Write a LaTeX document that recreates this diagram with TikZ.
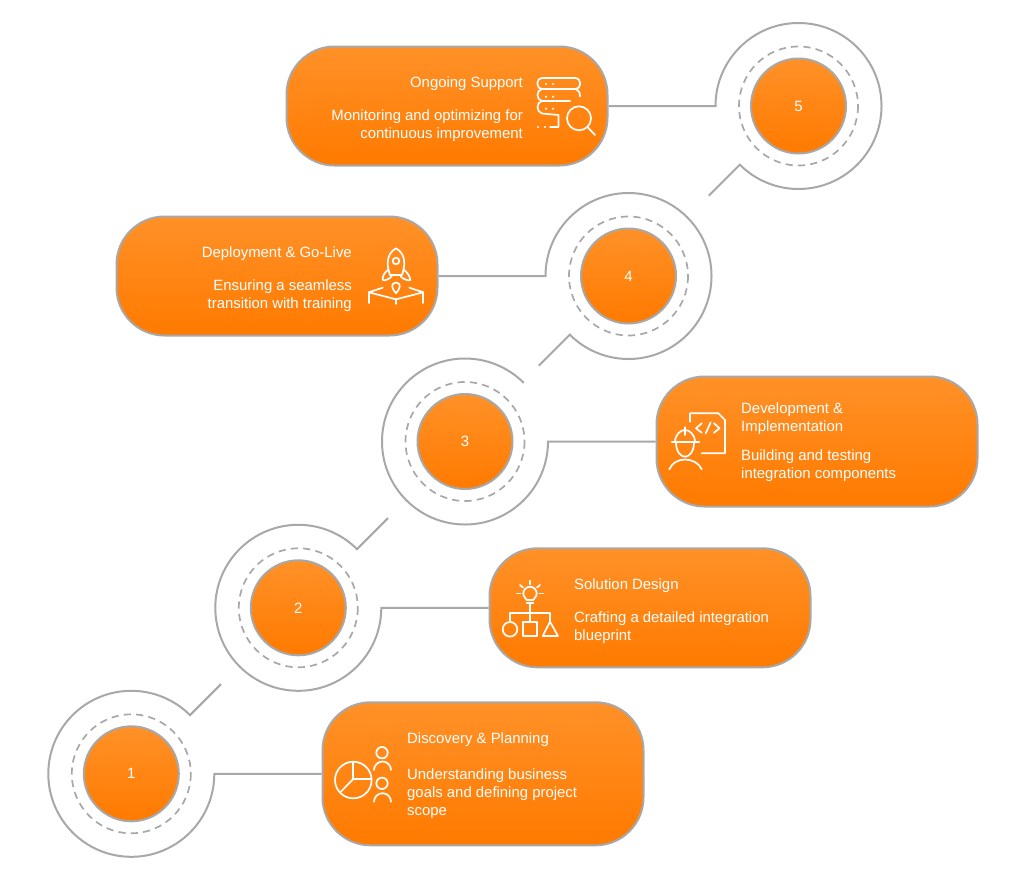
\documentclass[tikz,border=0pt]{standalone}
\usepackage{fontspec}
\setmainfont{Liberation Sans}
\usetikzlibrary{calc}
\definecolor{stepgray}{HTML}{A8A8A8}
\definecolor{steptop}{HTML}{FF9128}
\definecolor{stepbottom}{HTML}{FF7A00}
\tikzset{
  stepbox/.style={draw=stepgray, line width=2pt, rounded corners=48pt, top color=steptop, bottom color=stepbottom, minimum width=321pt, inner sep=0pt},
  numdisc/.style={circle, draw=stepgray, line width=2pt, top color=steptop, bottom color=stepbottom, minimum size=95pt, inner sep=0pt, text=white, font=\fontsize{14.9}{18}\selectfont},
  ringline/.style={draw=stepgray, line width=2pt},
  dashring/.style={draw=stepgray, line width=1.7pt, dash pattern=on 7.2pt off 5.2pt},
  steptext/.style={text=white, inner sep=0pt, font=\fontsize{14.9}{18}\selectfont},
  iconline/.style={draw=white, line width=1.7pt, line cap=round, line join=round}
}
\begin{document}
\begin{tikzpicture}[x=1pt,y=-1pt]
\useasboundingbox (0,0) rectangle (1024,878);
% boxes
\node[stepbox, minimum height=119pt] (box5) at (447,106) {};
\node[stepbox, minimum height=119pt] (box4) at (277,276) {};
\node[stepbox, minimum height=130pt] (box3) at (817,441.5) {};
\node[stepbox, minimum height=119pt] (box2) at (650,607.8) {};
\node[stepbox, minimum height=143pt] (box1) at (483,773.8) {};
% discs
\node[numdisc] (disc5) at (798.5,106) {5};
\node[numdisc] (disc4) at (628.5,276) {4};
\node[numdisc] (disc3) at (465,441.5) {3};
\node[numdisc] (disc2) at (298.3,607.8) {2};
\node[numdisc] (disc1) at (131.3,773.8) {1};
\draw[dashring] (disc5) circle (59.5);
\draw[dashring] (disc4) circle (59.5);
\draw[dashring] (disc3) circle (59.5);
\draw[dashring] (disc2) circle (59.5);
\draw[dashring] (disc1) circle (59.5);
% connectors with the outer rings
\coordinate (ring5) at ($(disc5)+(-83,0)$);
\coordinate (ring4) at ($(disc4)+(-83,0)$);
\coordinate (ring3) at ($(disc3)+(83,0)$);
\coordinate (ring2) at ($(disc2)+(83,0)$);
\coordinate (ring1) at ($(disc1)+(83,0)$);
\draw[ringline] (box5.east) -- (ring5) arc (180:495:83) -- ++(-31,31);
\draw[ringline] (box4.east) -- (ring4) arc (180:495:83) -- ++(-31,31);
\draw[ringline] (box3.west) -- (ring3) arc (0:315:83);
\draw[ringline] (box2.west) -- (ring2) arc (0:315:83) -- ++(31,-31);
\draw[ringline] (box1.west) -- (ring1) arc (0:315:83) -- ++(31,-31);
% texts
\node[steptext, anchor=east] (title5) at (523,83.5) {Ongoing Support};
\node[steptext, anchor=east, align=right] (desc5) at (523,125.5) {Monitoring and optimizing for\\continuous improvement};
\node[steptext, anchor=east] (title4) at (352,253.5) {Deployment \& Go-Live};
\node[steptext, anchor=east, align=right] (desc4) at (352,295.5) {Ensuring a seamless\\transition with training};
\node[steptext, anchor=west, align=left] (title3) at (741,418.8) {Development \&\\Implementation};
\node[steptext, anchor=west, align=left] (desc3) at (741,465.8) {Building and testing\\integration components};
\node[steptext, anchor=west] (title2) at (574,585.5) {Solution Design};
\node[steptext, anchor=west, align=left] (desc2) at (574,627.8) {Crafting a detailed integration\\blueprint};
\node[steptext, anchor=west] (title1) at (407,739.5) {Discovery \& Planning};
\node[steptext, anchor=west, align=left] (desc1) at (407,793.8) {Understanding business\\goals and defining project\\scope};
% icon 5
\draw[iconline, rounded corners=4.5pt] (537.5,78) rectangle (580,89);
\draw[iconline] (576,89) .. controls (579,90) and (580,93) .. (580,96.5);
\draw[iconline] (542,89) .. controls (536,90) and (536,100) .. (542,101) -- (570,101);
\draw[iconline] (542,101) .. controls (536,102) and (536,112) .. (542,113.5) -- (558.5,115) -- (558.5,127) -- (550,127);
\fill[white] (546,84) circle (1.2) (553,84) circle (1.2) (546,96.7) circle (1.2) (553,96.7) circle (1.2) (546,108.7) circle (1.2) (553,108.7) circle (1.2) (538,127) circle (1.2) (545,127) circle (1.2);
\draw[iconline] (579,118.3) circle (12);
\draw[iconline] (587.5,127) -- (595,135);
% icon 4
\draw[iconline] (396,248.3) .. controls (391,251) and (387.7,256) .. (387.7,263) .. controls (387.7,267) and (389,272) .. (390,275) -- (402,275) .. controls (403,272) and (404.3,267) .. (404.3,263) .. controls (404.3,256) and (401,251) .. (396,248.3);
\draw[iconline] (396,261) circle (3.3);
\draw[iconline] (388.5,269.5) .. controls (385,272) and (382,276) .. (382.7,280) .. controls (385,281) and (389,279) .. (391.7,276.5);
\draw[iconline] (403.5,269.5) .. controls (407,272) and (410,276) .. (410.3,280) .. controls (408,281) and (403,279) .. (400.7,276.5);
\draw[iconline] (396,282.5) .. controls (390,283) and (392,289) .. (396,293.3) .. controls (400,289) and (402,283) .. (396,282.5);
\draw[iconline] (382.7,287.7) -- (368.8,292.3) -- (396,299.3) -- (423.3,292.3) -- (409.3,287.7);
\draw[iconline] (368.8,292.3) -- (368.8,303);
\draw[iconline] (396,299.3) -- (396,304);
\draw[iconline] (423.3,292.3) -- (423.3,303);
% icon 3
\draw[iconline] (690,421.7) -- (690,413.3) -- (718.3,413.3) -- (725,420) -- (725,453.3) -- (701.7,453.3);
\draw[iconline] (701.7,423.3) -- (696,428.3) -- (701.7,432.7);
\draw[iconline] (710.7,422.3) -- (705.7,433.3);
\draw[iconline] (714,423.3) -- (719.5,428.3) -- (714,432.7);
\draw[iconline] (671.7,442.3) -- (699.3,442.3);
\draw[iconline] (675,442.3) .. controls (675,435) and (680,430) .. (685,430) .. controls (690,430) and (695,435) .. (695,442.3);
\draw[iconline] (685,427.3) -- (685,435);
\draw[iconline] (676,442.3) .. controls (676,452) and (681,456.7) .. (685,456.7) .. controls (689,456.7) and (694,452) .. (694,442.3);
\draw[iconline] (669.3,469.3) .. controls (672,463) and (678,459.5) .. (685,459.5) .. controls (692,459.5) and (699,463) .. (701.7,469.3);
% icon 2
\draw[iconline] (526.7,600) .. controls (526.7,598) and (523.3,597.5) .. (523.3,593.5) arc (180:360:6.7) .. controls (536.7,597.5) and (533.3,598) .. (533.3,600) -- cycle;
\draw[iconline] (526.7,603.3) -- (533.3,603.3);
\draw[iconline] (530,580.7) -- (530,584.5);
\draw[iconline] (520,585) -- (523,587.5);
\draw[iconline] (540,585) -- (537,587.5);
\draw[iconline] (516.7,593.5) -- (520.5,593.5);
\draw[iconline] (543.3,593.5) -- (539.5,593.5);
\draw[iconline] (530,603.3) -- (530,622);
\draw[iconline] (510,622) -- (510,613.3) -- (550,613.3) -- (550,621.7);
\draw[iconline] (510,629.3) circle (7.3);
\draw[iconline] (523.3,622) rectangle (537.3,636);
\draw[iconline] (550,621.7) -- (558,636) -- (542.7,636) -- cycle;
% icon 1
\draw[iconline] (353.3,780) circle (18.3);
\draw[iconline] (353.3,761.7) -- (353.3,779) -- (371.5,779);
\draw[iconline] (353.3,779) -- (341,791.5);
\draw[iconline] (382,752.7) circle (5.7);
\draw[iconline] (374,770) arc (180:360:8.5);
\draw[iconline] (382,783.3) circle (5.7);
\draw[iconline] (374,801.7) arc (180:360:8.5);
\end{tikzpicture}
\end{document}
